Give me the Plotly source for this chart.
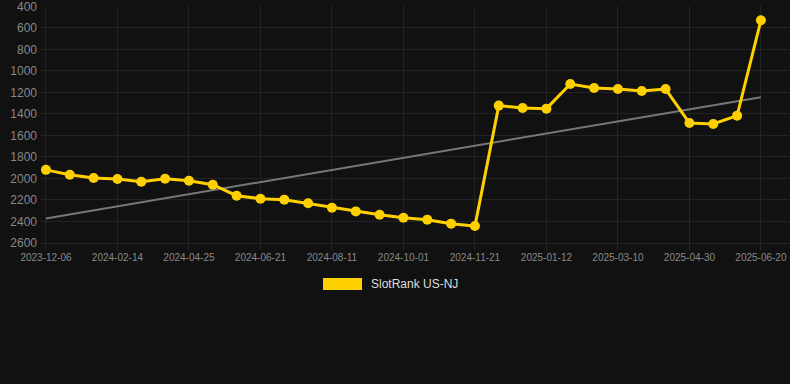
import numpy as np
import plotly.graph_objects as go

# Category dates (every third is labelled on the axis; in-between dates estimated)
dates = [
    "2023-12-06", "2023-12-29", "2024-01-22",
    "2024-02-14", "2024-03-08", "2024-04-01",
    "2024-04-25", "2024-05-14", "2024-06-02",
    "2024-06-21", "2024-07-08", "2024-07-25",
    "2024-08-11", "2024-08-28", "2024-09-14",
    "2024-10-01", "2024-10-18", "2024-11-04",
    "2024-11-21", "2024-12-08", "2024-12-25",
    "2025-01-12", "2025-01-31", "2025-02-19",
    "2025-03-10", "2025-03-27", "2025-04-13",
    "2025-04-30", "2025-05-17", "2025-06-03",
    "2025-06-20",
]
ranks = [
    1920, 1965, 1996, 2005, 2030, 2002, 2021, 2058, 2160, 2188,
    2197, 2231, 2272, 2306, 2337, 2365, 2383, 2420, 2442, 1323,
    1345, 1351, 1122, 1159, 1169, 1187, 1169, 1485, 1494, 1416,
    530,
]
series_name = "SlotRank US-NJ"
y_ticks = [400, 600, 800, 1000, 1200, 1400, 1600, 1800, 2000, 2200, 2400, 2600]

idx = np.arange(len(ranks))
slope, intercept = np.polyfit(idx, ranks, 1)
trend = (slope * idx + intercept).tolist()

yellow = "#FFD000"
bg = "#111111"

fig = go.Figure()
fig.add_trace(go.Scatter(
    x=dates, y=trend, mode="lines",
    line=dict(color="#777777", width=2),
    hoverinfo="skip", showlegend=False,
))
fig.add_trace(go.Scatter(
    x=dates, y=ranks, mode="lines+markers", name=series_name,
    line=dict(color=yellow, width=3),
    marker=dict(color=yellow, size=10),
    showlegend=False,
))

tick_dates = dates[::3]

fig.update_layout(
    width=790, height=384,
    paper_bgcolor=bg, plot_bgcolor=bg,
    margin=dict(l=40, r=0, t=6, b=134),
    font=dict(family="Liberation Sans, Arial, sans-serif", color="#888888"),
    xaxis=dict(
        type="category",
        range=[-0.25, len(dates) - 1 + 1.22],
        tickmode="array", tickvals=tick_dates, ticktext=tick_dates,
        showgrid=True, gridcolor="#232323", gridwidth=1,
        zeroline=False, showline=False, ticks="",
        tickfont=dict(size=10, color="#888888"),
        ticklabeloverflow="allow",
    ),
    yaxis=dict(
        range=[2665, 397],
        tickmode="array", tickvals=y_ticks,
        showgrid=True, gridcolor="#232323", gridwidth=1,
        zeroline=False, showline=False, ticks="",
        tickfont=dict(size=12, color="#888888"),
        ticklabeloverflow="allow",
        ticklabelstandoff=2,
    ),
    showlegend=False,
)

# Legend drawn manually (swatch + real text), centered under the chart
fig.add_shape(type="rect", xref="paper", yref="paper",
              x0=(323 - 40) / 750, x1=(362 - 40) / 750,
              y0=(250 - 290) / 244, y1=(250 - 278) / 244,
              fillcolor=yellow, line=dict(width=0))
fig.add_annotation(xref="paper", yref="paper",
                   x=(369 - 40) / 750, y=(250 - 284) / 244,
                   xanchor="left", yanchor="middle", showarrow=False,
                   text=series_name,
                   font=dict(size=12, color="#dddddd",
                             family="Liberation Sans, Arial, sans-serif"))

fig.write_html(
    "out.html",
    config={"displayModeBar": False},
    post_script="document.body.style.margin='0';document.body.style.background='#111111';",
)
